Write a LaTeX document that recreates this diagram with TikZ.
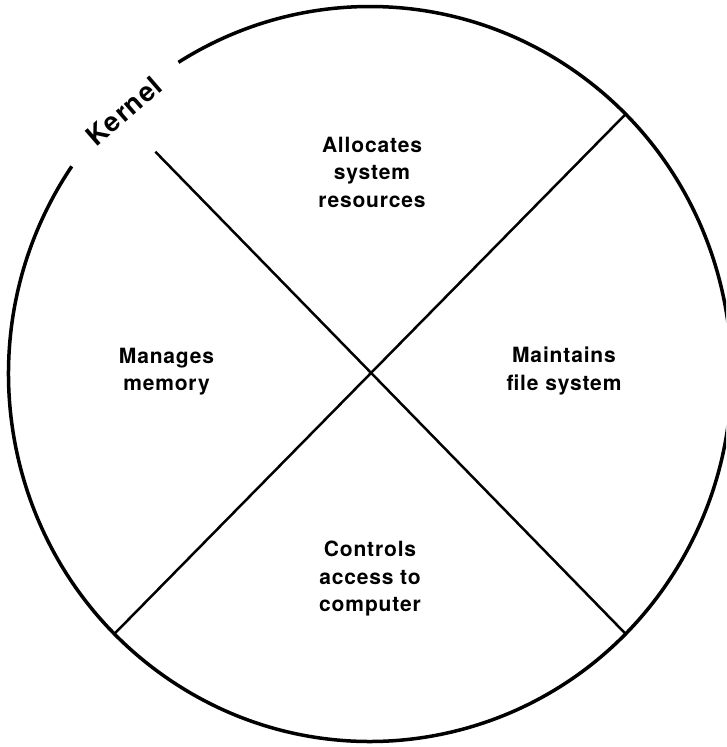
\documentclass[tikz,border=0pt]{standalone}
\usepackage{fontspec}
\setmainfont{TeX Gyre Heros}[LetterSpace=4]
\usetikzlibrary{calc}

\begin{document}
\begin{tikzpicture}[
    x=1pt, y=1pt,
    duty/.style={align=center, inner sep=0pt, font=\fontsize{21}{27.5}\selectfont\bfseries},
    rim/.style={line width=3.5pt},
    cut/.style={line width=2.5pt},
  ]
  \useasboundingbox (0,0) rectangle (726,747);
  \clip (0,0) rectangle (726,747);
  \coordinate (hub) at (370,373);
  % outer ring, open where the label sits
  \draw[rim] (hub) ++(145.6:361.5 and 367.5)
    arc[start angle=145.6, end angle=482, x radius=361.5, y radius=367.5];
  \coordinate (ne) at ($(hub)+(45:361.5 and 367.5)$);
  \coordinate (sw) at ($(hub)+(225:361.5 and 367.5)$);
  \coordinate (se) at ($(hub)+(-45:361.5 and 367.5)$);
  \coordinate (nw) at ($(hub)+(134:309)$);
  \draw[cut] (ne) -- (sw);
  \draw[cut] (nw) -- (se);
  \node[duty] (alloc) at (372,575) {Allocates\\system\\resources};
  \node[duty] (memory) at (166.5,375.5) {Manages\\memory};
  \node[duty] (files) at (564,376) {Maintains\\file system};
  \node[duty] (access) at (370,168) {Controls\\access to\\computer};
  \node[duty, font=\fontsize{27}{30}\selectfont\bfseries, rotate=41] (kernel) at (124,636) {Kernel};
\end{tikzpicture}
\end{document}
